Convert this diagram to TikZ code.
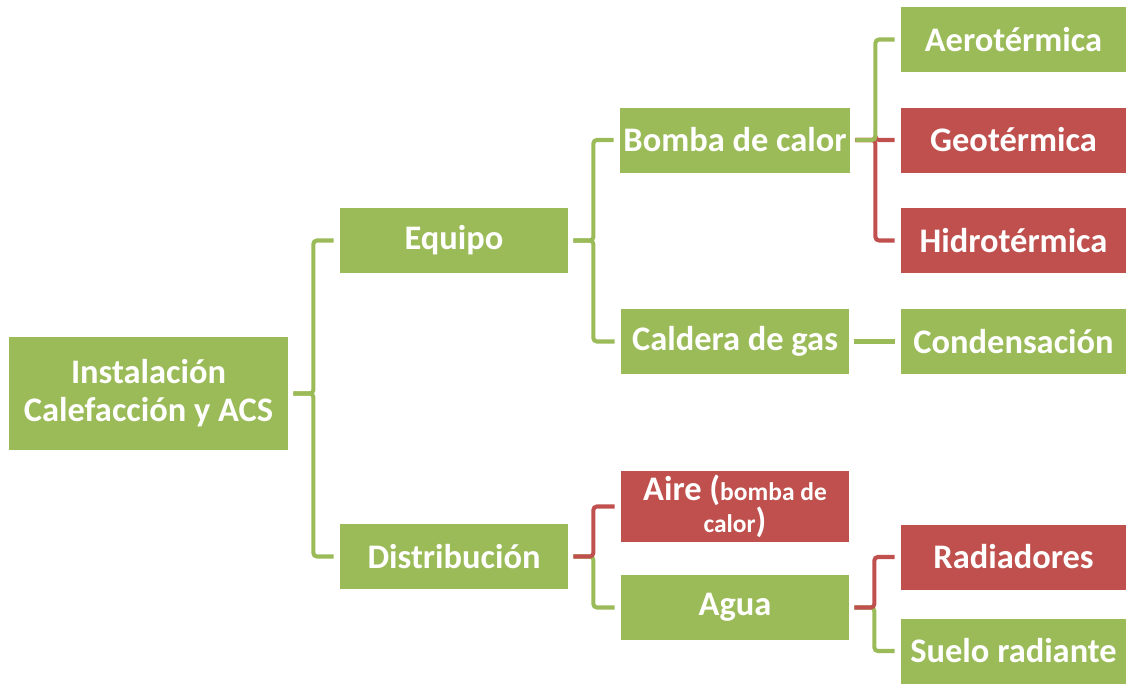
\documentclass[tikz,border=0pt]{standalone}
\usepackage{fontspec}
\setmainfont{Carlito}
\usepackage{tikz}
\usetikzlibrary{positioning}
\definecolor{boxgreen}{HTML}{9BBB59}
\definecolor{boxred}{HTML}{C0504D}
\tikzset{
    box/.style={
           rectangle,
           minimum width=4.56cm,
           minimum height=1.3cm,
           inner sep=2pt,
           text=white,
           align=center,
           font=\fontsize{19.6}{21.5}\selectfont\bfseries,
           },
    greenbox/.style={box, fill=boxgreen},
    redbox/.style={box, fill=boxred},
    leaf/.style={minimum width=4.5cm},
    gline/.style={draw=boxgreen, line width=2.3pt, rounded corners=2pt},
    rline/.style={draw=boxred, line width=2.3pt, rounded corners=2pt},
}

\begin{document}
\begin{tikzpicture}

 \useasboundingbox (0,0) rectangle (22.52,-13.68);

 % Root node
 \node[greenbox,
 minimum width=5.58cm,
 minimum height=2.26cm] (ROOT) at (2.97,-7.87)
 {Instalación\\Calefacción y ACS};

 % first level
 \node[greenbox,
 right of=ROOT,
 node distance=6.11cm,
 yshift=3.06cm] (EQUIPO) {Equipo};

 \node[greenbox,
 right of=ROOT,
 node distance=6.11cm,
 yshift=-3.26cm] (DISTR) {Distribución};

 % second level: Equipo
 \node[greenbox,
 right of=EQUIPO,
 node distance=5.62cm,
 yshift=2.01cm] (BOMBA) {Bomba de calor};

 \node[greenbox,
 below of=BOMBA,
 node distance=4.03cm] (CALDERA) {Caldera de gas};

 % second level: Distribucion
 \node[redbox,
 right of=DISTR,
 node distance=5.62cm,
 yshift=1.0cm] (AIRE)
 {Aire ({\fontsize{14.5}{15}\selectfont bomba de}\\[-3pt]{\fontsize{14.5}{15}\selectfont calor})};

 \node[greenbox,
 below of=AIRE,
 node distance=2.02cm] (AGUA) {Agua};

 % third level
 \node[redbox, leaf,
 right of=BOMBA,
 node distance=5.57cm] (GEO) {Geotérmica};

 \node[greenbox, leaf,
 above of=GEO,
 node distance=2.01cm] (AERO) {Aerotérmica};

 \node[redbox, leaf,
 below of=GEO,
 node distance=2.01cm] (HIDRO) {Hidrotérmica};

 \node[greenbox, leaf,
 right of=CALDERA,
 node distance=5.57cm] (COND) {Condensación};

 \node[redbox, leaf,
 right of=AGUA,
 node distance=5.57cm,
 yshift=1.01cm] (RADIA) {Radiadores};

 \node[greenbox, leaf,
 below of=RADIA,
 node distance=1.88cm] (SUELO) {Suelo radiante};

 % draw the connectors (last one drawn lies on top of the stub)
 \draw[gline] ([xshift=1mm]ROOT.east) -- ++(0.4,0) |- ([xshift=-1.2mm]EQUIPO.west);
 \draw[gline] ([xshift=1mm]ROOT.east) -- ++(0.4,0) |- ([xshift=-1.2mm]DISTR.west);

 \draw[gline] ([xshift=1mm]EQUIPO.east) -- ++(0.4,0) |- ([xshift=-1.2mm]BOMBA.west);
 \draw[gline] ([xshift=1mm]EQUIPO.east) -- ++(0.4,0) |- ([xshift=-1.2mm]CALDERA.west);

 \draw[rline] ([xshift=1mm]BOMBA.east) -- ++(0.4,0) |- ([xshift=-1.2mm]GEO.west);
 \draw[rline] ([xshift=1mm]BOMBA.east) -- ++(0.4,0) |- ([xshift=-1.2mm]HIDRO.west);
 \draw[gline] ([xshift=1mm]BOMBA.east) -- ++(0.4,0) |- ([xshift=-1.2mm]AERO.west);

 \draw[gline] ([xshift=1mm]CALDERA.east) -- ([xshift=-1.2mm]COND.west);

 \draw[gline] ([xshift=1mm]DISTR.east) -- ++(0.4,0) |- ([xshift=-1.2mm]AGUA.west);
 \draw[rline] ([xshift=1mm]DISTR.east) -- ++(0.4,0) |- ([xshift=-1.2mm]AIRE.west);

 \draw[gline] ([xshift=1mm]AGUA.east) -- ++(0.4,0) |- ([xshift=-1.2mm]SUELO.west);
 \draw[rline] ([xshift=1mm]AGUA.east) -- ++(0.4,0) |- ([xshift=-1.2mm]RADIA.west);

\end{tikzpicture}
\end{document}
